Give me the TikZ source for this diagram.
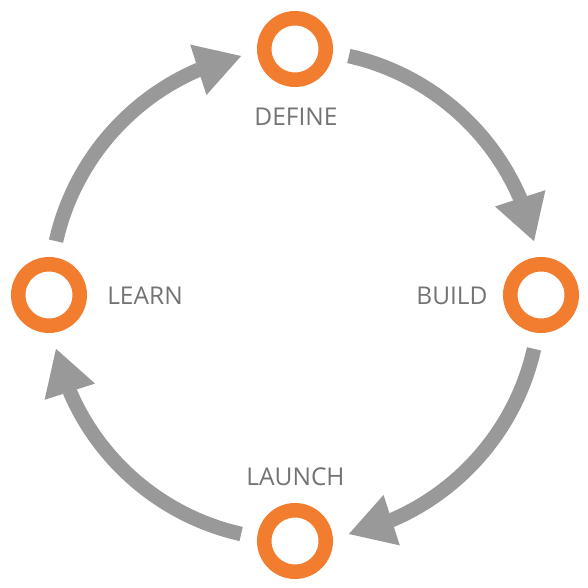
\documentclass[tikz,border=0pt]{standalone}
\usepackage{fontspec}
\setmainfont{Open Sans}
\usepackage{tikz}
\usetikzlibrary{arrows.meta, bending}
\definecolor{StageOrange}{HTML}{F27D2F}
\definecolor{ArrowGray}{HTML}{999999}
\definecolor{LabelGray}{HTML}{737373}

\begin{document}
\begin{tikzpicture}[
  x=1pt, y=1pt,
  stage/.style={circle, draw=StageOrange, line width=14.5pt,
    minimum size=61.5pt, inner sep=0pt},
  stagelabel/.style={font=\fontsize{24.5}{29}\selectfont, text=LabelGray,
    inner sep=0pt},
  cyclearrow/.style={draw=ArrowGray, line width=14.5pt,
    -{Triangle[length=45pt, width=53pt, line width=0pt]}}
]
\useasboundingbox (-295,-293) rectangle (293,295);

% Centre of the cycle
\coordinate (hub) at (0,0);

% Stages
\node[stage] (define) at (0,246) {};
\node[stage] (build)  at (246,0) {};
\node[stage] (launch) at (0,-246) {};
\node[stage] (learn)  at (-246,0) {};

% Labels
\node[stagelabel] (definelabel) at (1,178)     {DEFINE};
\node[stagelabel] (buildlabel)  at (157,-1)    {BUILD};
\node[stagelabel] (launchlabel) at (0.5,-181.5) {LAUNCH};
\node[stagelabel] (learnlabel)  at (-150,-1)   {LEARN};

% Cycle arrows
\draw[cyclearrow] (hub) ++(77.3:245)   arc[start angle=77.3,  end angle=12.7,  radius=245];
\draw[cyclearrow] (hub) ++(-12.7:245)  arc[start angle=-12.7, end angle=-77.3, radius=245];
\draw[cyclearrow] (hub) ++(-102.7:245) arc[start angle=-102.7, end angle=-167.3, radius=245];
\draw[cyclearrow] (hub) ++(167.3:245)  arc[start angle=167.3, end angle=102.7, radius=245];

\end{tikzpicture}
\end{document}
